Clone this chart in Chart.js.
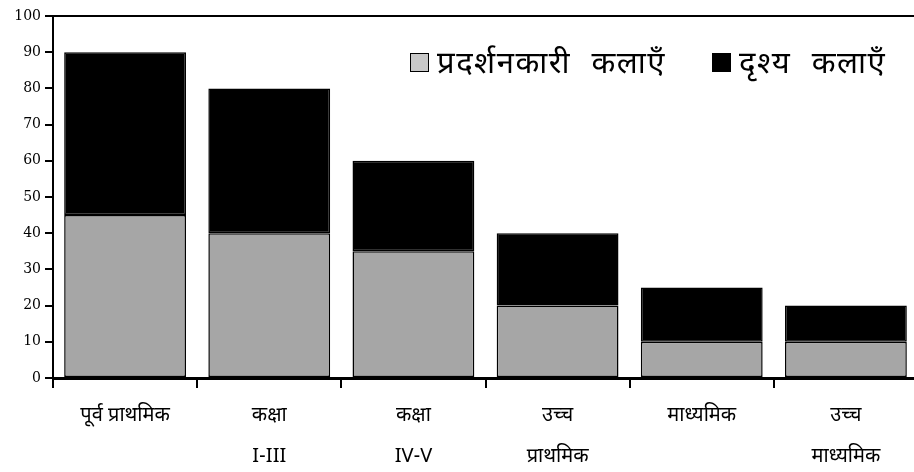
<!DOCTYPE html>
<html>
<head>
<meta charset="utf-8">
<script src="https://cdn.jsdelivr.net/npm/chart.js@4"></script>
<style>
  body { margin: 0; background: #fff; }
  #wrap { position: relative; width: 914px; height: 472px; overflow: hidden; }
  .leg { position: absolute; top: 45px; font-family: 'Noto Sans Devanagari', 'Noto Serif Devanagari', sans-serif; font-size: 31px; letter-spacing: 1.5px; word-spacing: 11px; color: #000; white-space: nowrap; }
  .leg span.box { display: inline-block; width: 17px; height: 17px; border: 1.5px solid #000; vertical-align: middle; margin-right: 8px; position: relative; top: -2px; }
</style>
</head>
<body>
<div id="wrap">
  <canvas id="myChart" width="918" height="472"></canvas>
  <div class="leg" style="left:410px"><span class="box" style="background:#c8c8c8"></span>प्रदर्शनकारी कलाएँ</div>
  <div class="leg" style="left:712px"><span class="box" style="background:#000"></span>दृश्य कलाएँ</div>
</div>
<script>
// donnees
const categories = [
  'पूर्व प्राथमिक',
  ['कक्षा', 'I-III'],
  ['कक्षा', 'IV-V'],
  ['उच्च', 'प्राथमिक'],
  'माध्यमिक',
  ['उच्च', 'माध्यमिक']
];
const performingArts = [45, 40, 35, 20, 10, 10];
const visualArts = [45, 40, 25, 20, 15, 10];
const seriesNames = ['प्रदर्शनकारी कलाएँ', 'दृश्य कलाएँ'];

// ligne du haut
const topLine = {
  id: 'topLine',
  afterDraw(chart) {
    const c = chart.ctx, a = chart.chartArea;
    c.save();
    c.strokeStyle = '#000';
    c.lineWidth = 2;
    c.beginPath();
    c.moveTo(a.left, a.top);
    c.lineTo(a.right, a.top);
    c.stroke();
    c.restore();
  }
};

const config = {
  type: 'bar',
  data: {
    labels: categories,
    datasets: [{
      label: seriesNames[0],
      data: performingArts,
      backgroundColor: '#a6a6a6',
      borderColor: '#000',
      borderWidth: 1.5,
      borderSkipped: false
    }, {
      label: seriesNames[1],
      data: visualArts,
      backgroundColor: '#000',
      borderColor: '#000',
      borderWidth: 1.5,
      borderSkipped: false
    }]
  },
  options: {
    responsive: false,
    animation: false,
    layout: { padding: { top: 16, right: 0 } },
    plugins: { legend: { display: false }, tooltip: { enabled: false } },
    datasets: { bar: { categoryPercentage: 1, barPercentage: 0.845 } },
    scales: {
      x: {
        stacked: true,
        afterFit(s) { s.height = 94; },
        grid: { drawOnChartArea: false, offset: true, tickLength: 10, color: '#000', lineWidth: 2 },
        border: { color: '#000', width: 3 },
        ticks: {
          color: '#000',
          padding: 9,
          maxRotation: 0,
          autoSkip: false,
          font: { family: "'Noto Sans Devanagari', 'Liberation Serif', serif", size: 20, lineHeight: 2.05 }
        }
      },
      y: {
        stacked: true,
        min: 0,
        max: 100,
        afterFit(s) { s.width = 53; },
        grid: { drawOnChartArea: false, tickLength: 8, color: '#000', lineWidth: 2 },
        border: { color: '#000', width: 2 },
        ticks: {
          stepSize: 10,
          color: '#000',
          padding: 4,
          font: { family: "'DejaVu Serif', serif", size: 14 }
        }
      }
    }
  },
  plugins: [topLine]
};

var myChart = new Chart(document.getElementById('myChart'), config);
</script>
</body>
</html>
